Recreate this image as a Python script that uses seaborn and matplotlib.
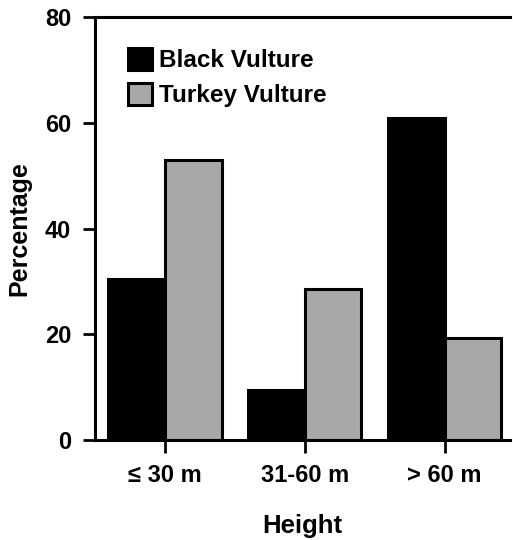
#!/usr/bin/env python3

import pandas as pd
import matplotlib.pyplot as plt
import seaborn as sns

heights = ["≤ 30 m", "31-60 m", "> 60 m"]
black_vulture = [30.5, 9.5, 61.0]
turkey_vulture = [53.0, 28.5, 19.3]
species = ["Black Vulture", "Turkey Vulture"]

df = pd.DataFrame({
    "Height": heights * 2,
    "Percentage": black_vulture + turkey_vulture,
    "species": [species[0]] * 3 + [species[1]] * 3,
})

sns.set_style("ticks")
plt.rcParams["font.family"] = ["Liberation Sans", "DejaVu Sans"]
plt.rcParams["font.weight"] = "bold"
for key in ["text.color", "axes.labelcolor", "xtick.color", "ytick.color", "axes.edgecolor"]:
    plt.rcParams[key] = "black"

fig, ax = plt.subplots(figsize=(5.13, 5.4), dpi=100)
sns.barplot(data=df, x="Height", y="Percentage", hue="species",
            palette=["black", "#a8a8a8"], width=0.81, edgecolor="black",
            linewidth=2.2, saturation=1, ax=ax)

ax.set_ylim(0, 80)
ax.set_xlim(-0.5, 2.47)
ax.set_yticks([0, 20, 40, 60, 80])
for s in ["left", "bottom", "top"]:
    ax.spines[s].set_linewidth(2.2)
ax.spines["right"].set_visible(False)
ax.tick_params(axis="both", length=9, width=2, labelsize=17, pad=8)
ax.set_xlabel("Height", fontsize=18.5, fontweight="bold", labelpad=20)
ax.set_ylabel("Percentage", fontsize=18, fontweight="bold", labelpad=10)

leg = ax.legend(loc="upper left", frameon=False, fontsize=17.5, handlelength=1.0,
                handleheight=1.0, handletextpad=0.3, labelspacing=0.45,
                borderaxespad=0.6, bbox_to_anchor=(0.02, 0.985))

fig.subplots_adjust(left=0.185, right=0.995, top=0.968, bottom=0.185)
fig.savefig("out.png", dpi=100)
